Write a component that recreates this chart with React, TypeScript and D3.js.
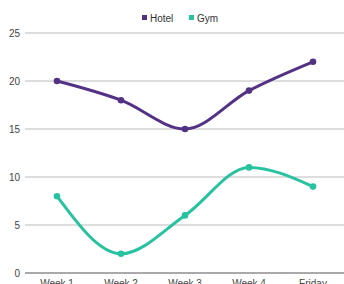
import React from "react";
import * as d3 from "d3";

const categories = ["Week 1", "Week 2", "Week 3", "Week 4", "Friday"];
const hotel = [20, 18, 15, 19, 22];
const gym = [8, 2, 6, 11, 9];
const yTicks = [0, 5, 10, 15, 20, 25];

const series = [
  { name: "Hotel", values: hotel, color: "#533285" },
  { name: "Gym", values: gym, color: "#27c29f" },
];

const width = 344;
const height = 284;
const margin = { top: 33, right: -1, bottom: 11, left: 25 };

const App = () => {
  const x = d3
    .scalePoint<string>()
    .domain(categories)
    .range([margin.left, width - margin.right])
    .padding(0.5);
  const y = d3
    .scaleLinear()
    .domain([0, 25])
    .range([height - margin.bottom, margin.top]);

  const line = d3
    .line<number>()
    .x((_, i) => x(categories[i]) as number)
    .y((d) => y(d))
    .curve(d3.curveMonotoneX);

  const font = "Arial, 'Liberation Sans', sans-serif";

  return (
    <svg
      width={width}
      height={height}
      style={{ position: "absolute", left: 0, top: 0, fontFamily: font }}
    >
      {/* grid */}
      {yTicks.map((t) => (
        <g key={t}>
          <line
            x1={margin.left}
            x2={width}
            y1={y(t)}
            y2={y(t)}
            stroke={t === 0 ? "#555" : "#bbb"}
            strokeWidth={1}
          />
          <text
            x={20}
            y={y(t)}
            dy="0.35em"
            textAnchor="end"
            fontSize={10}
            fill="#444"
          >
            {t}
          </text>
        </g>
      ))}
      {/* x labels */}
      {categories.map((c) => (
        <text
          key={c}
          x={x(c)}
          y={height - margin.bottom + 14}
          textAnchor="middle"
          fontSize={10}
          fill="#444"
        >
          {c}
        </text>
      ))}
      {/* lines */}
      {series.map((s) => (
        <g key={s.name}>
          <path d={line(s.values) || ""} fill="none" stroke={s.color} strokeWidth={3} />
          {s.values.map((v, i) => (
            <circle key={i} cx={x(categories[i])} cy={y(v)} r={3.3} fill={s.color} />
          ))}
        </g>
      ))}
      {/* legend */}
      <g fontSize={10} fill="#333">
        <rect x={142} y={15} width={5} height={5} fill={series[0].color} />
        <text x={150} y={18} dy="0.35em">
          Hotel
        </text>
        <rect x={189} y={15} width={5} height={5} fill={series[1].color} />
        <text x={197} y={18} dy="0.35em">
          Gym
        </text>
      </g>
    </svg>
  );
};

export default App;
